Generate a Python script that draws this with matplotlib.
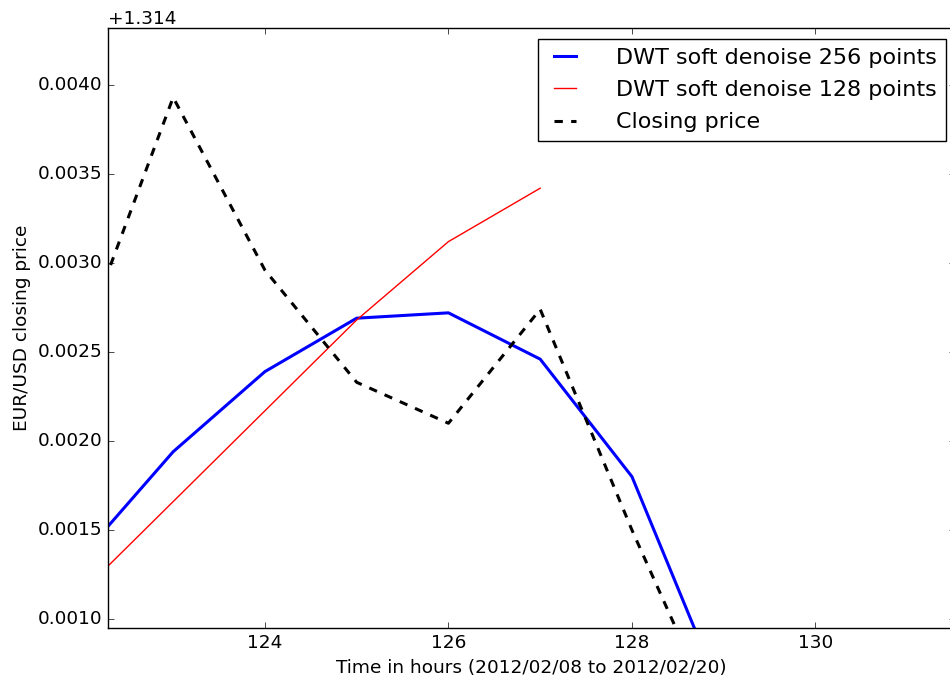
import numpy as np
import matplotlib
matplotlib.use("Agg")
import matplotlib.pyplot as plt

plt.style.use("classic")
plt.rcParams["font.family"] = ["DejaVu Sans"]
plt.rcParams["font.size"] = 13.3

base = 1.314
hours = [122, 123, 124, 125, 126, 127, 128, 129]
closing = [0.00255, 0.00393, 0.00296, 0.00233, 0.00210, 0.00274, 0.00150, 0.00035]
dwt256 = [0.00135, 0.00194, 0.00239, 0.00269, 0.00272, 0.00246, 0.00180, 0.00055]
hours128 = [122, 123, 124, 125, 126, 127]
dwt128 = [0.00115, 0.00166, 0.00217, 0.00268, 0.00312, 0.00342]

fig = plt.figure(figsize=(9.5, 6.75), dpi=100, facecolor="white")
ax = fig.add_axes([0.1137, 0.0696, 0.8915, 0.889])

ax.plot(hours, base + np.array(dwt256), color="blue", lw=2.2,
        label="DWT soft denoise 256 points")
ax.plot(hours128, base + np.array(dwt128), color="red", lw=1.0,
        label="DWT soft denoise 128 points")
ax.plot(hours, base + np.array(closing), "k--", lw=2.2,
        label="Closing price")

ax.set_xlim(122.29, 131.52)
ax.set_ylim(1.31495, 1.31832)
ax.set_xticks([124, 126, 128, 130])
ax.set_yticks(base + np.arange(0.0010, 0.00401, 0.0005))
ax.ticklabel_format(axis="y", useOffset=base, style="plain")

ax.set_xlabel("Time in hours (2012/02/08 to 2012/02/20)")
ax.set_ylabel("EUR/USD closing price")
ax.legend(loc="upper right", fontsize=16, handlelength=1.6,
          labelspacing=0.55, handletextpad=1.5,
          bbox_to_anchor=(1.002, 1.0))

fig.savefig("out.png", dpi=100, facecolor="white")
